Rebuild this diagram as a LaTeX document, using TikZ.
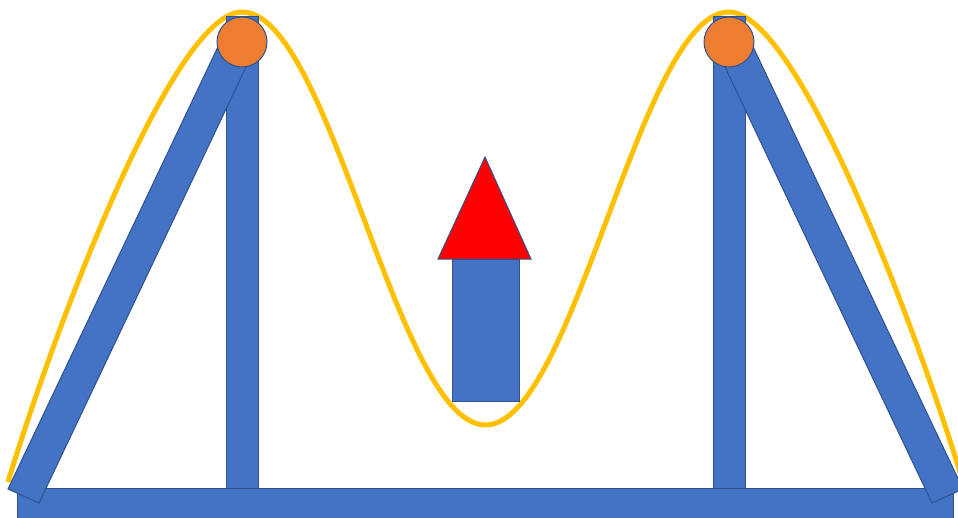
\documentclass[tikz,border=0pt]{standalone}
\usepackage{tikz}

\definecolor{bleu}{HTML}{4472C4}
\definecolor{bleufonce}{HTML}{2F528F}
\definecolor{orangebille}{HTML}{ED7D31}
\definecolor{jaune}{HTML}{FFC000}

\begin{document}
\begin{tikzpicture}[x=1pt, y=-1pt,
    barre/.style={fill=bleu, draw=bleufonce, line width=1pt},
    bille/.style={fill=orangebille, draw=bleufonce, line width=1pt},
    courbe/.style={draw=jaune, line width=5pt, line join=round}]

    % Cadre
    \clip (0,0) rectangle (958,517);

    % Courbe
    \draw[courbe] (8,482) .. controls (51.5,338) and (172,12) .. (242,12)
        -- plot[domain=242:729, samples=90] (\x, {218.5-206.5*cos((\x-242)/243.5*180)})
        .. controls (799,12) and (919.5,338) .. (963,482);

    % Poteaux
    \draw[barre] (226.5,16) rectangle (258.5,490);
    \draw[barre] (713.5,16) rectangle (745.5,490);

    % Socle
    \draw[barre] (17,488) rectangle (953,530);

    % Diagonales
    \draw[barre] (8,489) -- (39,503) -- (255.5,47) -- (224.5,33) -- cycle;
    \draw[barre] (963,489) -- (932,503) -- (715.5,47) -- (746.5,33) -- cycle;

    % Billes
    \draw[bille] (242,42) circle (25pt);
    \draw[bille] (729,42) circle (25pt);

    % Flèche
    \draw[barre] (452,259) rectangle (519,401);
    \draw[fill=red, draw=bleufonce, line width=1pt] (485,157) -- (531,259) -- (438,259) -- cycle;

\end{tikzpicture}
\end{document}
